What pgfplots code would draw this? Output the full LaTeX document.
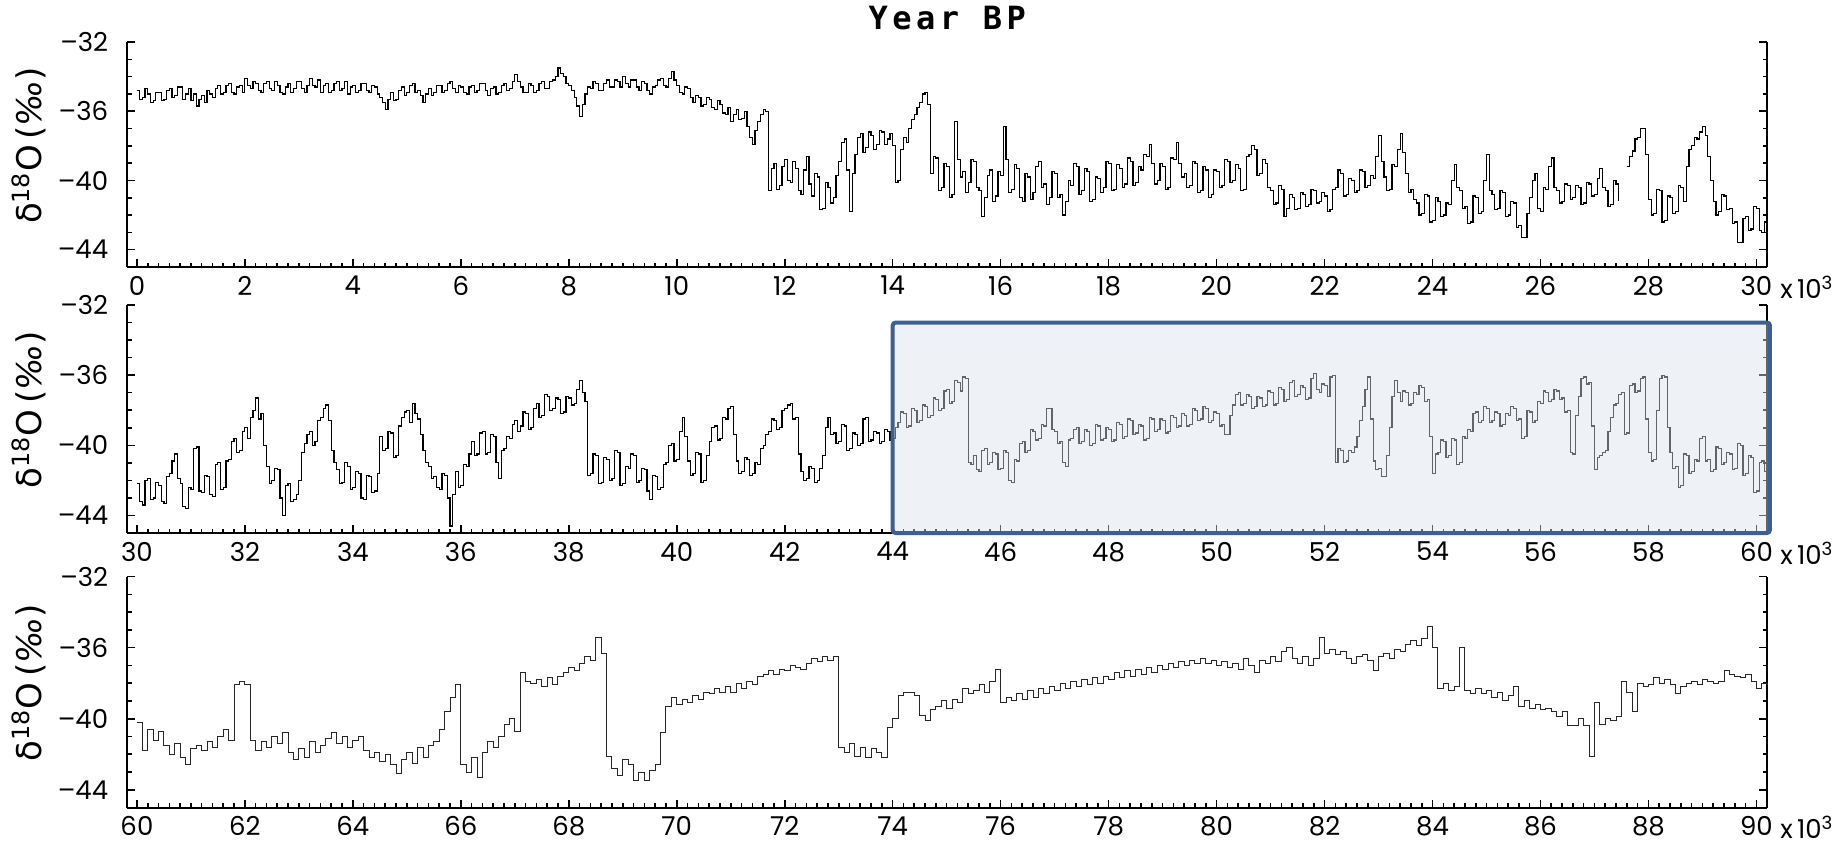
\documentclass[border=0pt]{standalone}
\usepackage{pgfplots}
\pgfplotsset{compat=1.18}
\usepackage{fontspec}
\setmainfont{Poppins}
\newfontfamily\labfont{DejaVu Sans}
\newfontfamily\titlefont[LetterSpace=14]{DejaVu Sans Mono}
\definecolor{boxblue}{RGB}{61,96,144}
\definecolor{boxfill}{rgb}{0.851,0.878,0.922}
\pgfplotsset{
  panel/.style={
    scale only axis, width=820pt,
    anchor=south west,
    axis x line*=bottom, axis y line*=box,
    ymin=-45, ymax=-32,
    ytick={-44,-40,-36,-32}, yticklabels={–44,–40,–36,–32},
    minor y tick num=3, minor x tick num=9,
    tick align=inside,
    major tick length=4pt, minor tick length=2.2pt,
    every tick/.style={black, line width=0.8pt},
    axis line style={line width=1pt},
    ticklabel style={font=\fontsize{13}{15}\selectfont},
    /pgf/number format/assume math mode=true,
    yticklabel style={xshift=-6pt},
    xticklabel style={yshift=-1pt},
    ylabel={δ\textsuperscript{18}O\,(\textit{‰})},
    ylabel style={at={(axis description cs:-0.0598,0.54)}, anchor=center, font=\labfont\fontsize{17}{19}\selectfont},
    clip=false,
    unbounded coords=jump,
  }
}
\newcommand{\xtenlabel}{\node[anchor=west, font=\fontsize{13}{15}\selectfont, xshift=3pt, yshift=-10pt] at (rel axis cs:1,0) {x\,10\textsuperscript{3}};}
\begin{document}
\begin{tikzpicture}
% ---------------- panel 1 ----------------
\begin{axis}[panel, at={(63.6pt,290pt)}, height=112.5pt,
  xmin=-0.18, xmax=30.2, xtick={0,2,...,30}]
\addplot[const plot, black, line width=0.6pt] table {
x y
0.00 -34.8
0.05 -35.3
0.10 -35.2
0.15 -34.7
0.20 -35.0
0.25 -35.5
0.30 -35.4
0.35 -34.9
0.40 -34.9
0.45 -35.4
0.50 -35.3
0.55 -34.8
0.60 -34.7
0.65 -35.2
0.70 -35.1
0.75 -34.6
0.80 -34.6
0.85 -35.3
0.90 -35.0
0.95 -34.7
1.00 -35.4
1.05 -35.0
1.10 -35.7
1.15 -35.3
1.20 -35.1
1.25 -35.5
1.30 -34.8
1.35 -35.0
1.40 -35.2
1.45 -34.7
1.50 -34.5
1.55 -35.0
1.60 -34.9
1.65 -34.5
1.70 -34.4
1.75 -34.9
1.80 -35.0
1.85 -34.6
1.90 -34.5
1.95 -34.9
2.00 -34.1
2.05 -34.5
2.10 -34.7
2.15 -34.3
2.20 -34.4
2.25 -34.8
2.30 -34.9
2.35 -34.4
2.40 -34.3
2.45 -34.7
2.50 -34.8
2.55 -34.3
2.60 -34.5
2.65 -34.9
2.70 -35.0
2.75 -34.6
2.80 -34.4
2.85 -34.9
2.90 -34.7
2.95 -34.3
3.00 -34.3
3.05 -34.7
3.10 -34.9
3.15 -34.5
3.20 -34.1
3.25 -34.5
3.30 -34.6
3.35 -34.2
3.40 -34.9
3.45 -34.5
3.50 -34.4
3.55 -34.9
3.60 -34.8
3.65 -34.4
3.70 -34.3
3.75 -34.8
3.80 -34.7
3.85 -34.3
3.90 -35.0
3.95 -34.6
4.00 -34.5
4.05 -34.9
4.10 -34.8
4.15 -34.4
4.20 -34.4
4.25 -34.8
4.30 -34.9
4.35 -34.5
4.40 -34.6
4.45 -35.0
4.50 -35.2
4.55 -35.5
4.60 -35.9
4.65 -35.3
4.70 -34.9
4.75 -35.4
4.80 -35.3
4.85 -34.8
4.90 -34.6
4.95 -35.1
5.00 -34.9
5.05 -34.5
5.10 -34.4
5.15 -34.9
5.20 -34.8
5.25 -35.1
5.30 -35.5
5.35 -35.0
5.40 -34.7
5.45 -35.1
5.50 -34.9
5.55 -34.5
5.60 -34.5
5.65 -34.9
5.70 -34.8
5.75 -34.4
5.80 -34.3
5.85 -34.7
5.90 -34.9
5.95 -34.5
6.00 -34.6
6.05 -34.9
6.10 -35.0
6.15 -34.6
6.20 -34.5
6.25 -34.9
6.30 -34.8
6.35 -34.4
6.40 -34.4
6.45 -34.8
6.50 -35.1
6.55 -34.7
6.60 -34.6
6.65 -35.0
6.70 -34.9
6.75 -34.5
6.80 -34.4
6.85 -34.8
6.90 -34.7
6.95 -34.3
7.00 -33.9
7.05 -34.3
7.10 -34.6
7.15 -34.9
7.20 -34.9
7.25 -34.4
7.30 -34.5
7.35 -34.9
7.40 -34.8
7.45 -34.4
7.50 -34.3
7.55 -34.7
7.60 -34.7
7.65 -34.3
7.70 -34.2
7.75 -34.0
7.80 -33.5
7.85 -33.8
7.90 -34.0
7.95 -34.4
8.00 -34.5
8.05 -34.8
8.10 -35.2
8.15 -35.7
8.20 -36.3
8.25 -35.6
8.30 -35.0
8.35 -34.6
8.40 -34.7
8.45 -34.3
8.50 -34.4
8.55 -34.8
8.60 -34.8
8.65 -34.4
8.70 -34.2
8.75 -34.6
8.80 -34.6
8.85 -34.2
8.90 -34.3
8.95 -34.6
9.00 -34.0
9.05 -34.4
9.10 -34.6
9.15 -34.2
9.20 -34.2
9.25 -34.6
9.30 -34.8
9.35 -34.3
9.40 -34.4
9.45 -34.8
9.50 -35.0
9.55 -34.6
9.60 -34.5
9.65 -34.2
9.70 -34.1
9.75 -34.5
9.80 -34.6
9.85 -34.1
9.90 -33.7
9.95 -34.2
10.00 -34.5
10.05 -34.9
10.10 -35.0
10.15 -34.6
10.20 -34.7
10.25 -35.2
10.30 -35.5
10.35 -35.1
10.40 -35.2
10.45 -35.7
10.50 -35.6
10.55 -35.2
10.60 -35.3
10.65 -35.8
10.70 -35.9
10.75 -35.4
10.80 -35.6
10.85 -36.1
10.90 -36.2
10.95 -35.8
11.00 -36.6
11.05 -36.2
11.10 -35.9
11.15 -36.5
11.20 -36.4
11.25 -36.0
11.30 -36.9
11.35 -37.5
11.40 -37.9
11.45 -37.1
11.50 -36.6
11.55 -36.2
11.60 -35.9
11.65 -36.0
11.70 -40.6
11.75 -39.3
11.80 -39.0
11.85 -40.5
11.90 -40.3
11.95 -39.2
12.00 -38.8
12.05 -40.0
12.10 -40.1
12.15 -38.9
12.20 -39.3
12.25 -40.6
12.30 -40.8
12.35 -39.4
12.40 -38.6
12.45 -40.2
12.50 -40.9
12.55 -39.6
12.60 -39.8
12.65 -41.7
12.70 -41.6
12.75 -40.1
12.80 -40.4
12.85 -41.3
12.90 -41.0
12.95 -39.7
13.00 -38.9
13.05 -37.8
13.10 -37.6
13.15 -39.4
13.20 -41.8
13.25 -39.6
13.30 -38.5
13.35 -37.5
13.40 -37.3
13.45 -38.4
13.50 -38.1
13.55 -37.2
13.60 -37.4
13.65 -38.2
13.70 -37.9
13.75 -37.1
13.80 -37.2
13.85 -37.9
13.90 -37.6
13.95 -37.3
14.00 -38.0
14.05 -40.1
14.10 -40.0
14.15 -38.2
14.20 -37.5
14.25 -37.8
14.30 -37.0
14.35 -36.5
14.40 -36.2
14.45 -35.8
14.50 -35.5
14.55 -35.0
14.60 -34.9
14.65 -35.6
14.70 -39.6
14.75 -38.6
14.80 -38.7
14.85 -40.6
14.90 -40.4
14.95 -39.0
15.00 -39.2
15.05 -41.0
15.10 -40.8
15.15 -36.6
15.20 -38.8
15.25 -39.8
15.30 -39.5
15.35 -40.7
15.40 -40.1
15.45 -38.8
15.50 -38.9
15.55 -40.4
15.60 -40.6
15.65 -42.1
15.70 -41.0
15.75 -39.7
15.80 -39.4
15.85 -41.2
15.90 -40.9
15.95 -39.5
16.00 -39.7
16.05 -36.9
16.10 -38.8
16.15 -40.7
16.20 -40.5
16.25 -39.1
16.30 -39.3
16.35 -41.0
16.40 -41.2
16.45 -39.6
16.50 -39.8
16.55 -41.1
16.60 -40.7
16.65 -39.2
16.70 -38.9
16.75 -40.4
16.80 -40.2
16.85 -41.4
16.90 -41.0
16.95 -39.5
17.00 -39.6
17.05 -41.0
17.10 -40.8
17.15 -42.0
17.20 -41.2
17.25 -40.0
17.30 -40.3
17.35 -39.0
17.40 -39.2
17.45 -40.8
17.50 -40.6
17.55 -39.3
17.60 -39.5
17.65 -41.2
17.70 -41.1
17.75 -39.8
17.80 -39.9
17.85 -40.7
17.90 -40.4
17.95 -38.9
18.00 -39.0
18.05 -40.6
18.10 -40.5
18.15 -39.1
18.20 -39.3
18.25 -40.4
18.30 -40.2
18.35 -38.7
18.40 -38.9
18.45 -40.3
18.50 -40.1
18.55 -39.2
18.60 -39.4
18.65 -38.5
18.70 -38.6
18.75 -37.9
18.80 -39.0
18.85 -40.2
18.90 -40.0
18.95 -39.0
19.00 -39.2
19.05 -40.5
19.10 -40.4
19.15 -38.7
19.20 -38.8
19.25 -37.8
19.30 -39.0
19.35 -39.8
19.40 -39.6
19.45 -40.4
19.50 -40.3
19.55 -38.9
19.60 -39.0
19.65 -40.7
19.70 -40.6
19.75 -39.2
19.80 -39.4
19.85 -41.0
19.90 -40.8
19.95 -39.4
20.00 -39.5
20.05 -40.4
20.10 -40.3
20.15 -38.8
20.20 -38.9
20.25 -40.1
20.30 -40.0
20.35 -39.1
20.40 -39.3
20.45 -40.6
20.50 -40.5
20.55 -38.6
20.60 -38.5
20.65 -38.0
20.70 -38.2
20.75 -39.7
20.80 -39.6
20.85 -38.8
20.90 -39.0
20.95 -40.4
21.00 -40.6
21.05 -41.4
21.10 -41.3
21.15 -40.3
21.20 -40.5
21.25 -42.1
21.30 -41.6
21.35 -40.8
21.40 -41.0
21.45 -41.7
21.50 -41.6
21.55 -40.7
21.60 -40.8
21.65 -41.5
21.70 -41.4
21.75 -40.5
21.80 -40.6
21.85 -41.3
21.90 -41.2
21.95 -40.7
22.00 -40.9
22.05 -41.8
22.10 -41.7
22.15 -40.5
22.20 -40.4
22.25 -39.4
22.30 -39.6
22.35 -40.9
22.40 -40.8
22.45 -39.9
22.50 -40.0
22.55 -40.7
22.60 -40.6
22.65 -39.4
22.70 -39.5
22.75 -40.4
22.80 -40.3
22.85 -39.7
22.90 -39.9
22.95 -38.6
23.00 -37.4
23.05 -38.9
23.10 -39.8
23.15 -40.6
23.20 -40.5
23.25 -39.1
23.30 -39.2
23.35 -38.2
23.40 -37.3
23.45 -38.4
23.50 -39.6
23.55 -40.7
23.60 -40.5
23.65 -41.1
23.70 -41.3
23.75 -42.0
23.80 -41.9
23.85 -40.8
23.90 -40.9
23.95 -42.4
24.00 -42.3
24.05 -41.0
24.10 -41.2
24.15 -42.1
24.20 -42.0
24.25 -41.3
24.30 -41.4
24.35 -40.0
24.40 -39.1
24.45 -40.4
24.50 -40.6
24.55 -41.6
24.60 -41.5
24.65 -42.5
24.70 -42.4
24.75 -40.9
24.80 -41.0
24.85 -41.9
24.90 -41.8
24.95 -40.0
25.00 -38.5
25.05 -40.6
25.10 -40.8
25.15 -41.7
25.20 -41.6
25.25 -40.6
25.30 -40.7
25.35 -42.1
25.40 -42.0
25.45 -41.2
25.50 -41.3
25.55 -42.7
25.60 -42.6
25.65 -43.3
25.70 -43.3
25.75 -41.9
25.80 -41.0
25.85 -40.0
25.90 -39.6
25.95 -41.6
26.00 -41.8
26.05 -40.4
26.10 -40.5
26.15 -39.2
26.20 -38.7
26.25 -40.4
26.30 -40.6
26.35 -41.3
26.40 -41.2
26.45 -40.2
26.50 -40.3
26.55 -41.1
26.60 -41.0
26.65 -40.3
26.70 -40.4
26.75 -41.4
26.80 -41.3
26.85 -40.1
26.90 -40.2
26.95 -40.9
27.00 -40.8
27.05 -39.9
27.10 -39.3
27.15 -40.4
27.20 -40.6
27.25 -41.5
27.30 -41.4
27.35 -40.0
27.40 -40.2
27.45 -41.2
27.50 nan
27.55 nan
27.60 -39.2
27.65 -38.6
27.70 -38.3
27.75 -37.6
27.80 -37.5
27.85 -37.0
27.90 -37.0
27.95 -38.5
28.00 -41.1
28.05 -42.0
28.10 -41.9
28.15 -40.5
28.20 -40.6
28.25 -42.4
28.30 -42.3
28.35 -40.9
28.40 -41.0
28.45 -41.9
28.50 -41.8
28.55 -40.3
28.60 -40.4
28.65 -41.2
28.70 -39.2
28.75 -38.2
28.80 -38.0
28.85 -37.5
28.90 -37.6
28.95 -37.2
29.00 -36.9
29.05 -37.4
29.10 -38.6
29.15 -40.0
29.20 -41.2
29.25 -42.0
29.30 -41.8
29.35 -40.8
29.40 -40.9
29.45 -41.7
29.50 -41.6
29.55 -42.5
29.60 -42.4
29.65 -43.6
29.70 -43.6
29.75 -42.2
29.80 -42.1
29.85 -42.9
29.90 -42.8
29.95 -41.5
30.00 -41.6
30.05 -42.9
30.10 -43.0
30.15 -42.4
30.20 -42.5
};
\node[font=\titlefont\bfseries\fontsize{16}{19}\selectfont, yshift=12pt] at (rel axis cs:0.5,1) {Year BP};
\xtenlabel
\end{axis}
% ---------------- panel 2 ----------------
\begin{axis}[panel, at={(63.6pt,157pt)}, height=114pt,
  xmin=29.82, xmax=60.2, xtick={30,32,...,60}]
\addplot[const plot, black, line width=0.6pt] table {
x y
30.00 -42.2
30.05 -43.2
30.10 -43.4
30.15 -42.0
30.20 -41.9
30.25 -43.1
30.30 -43.0
30.35 -42.1
30.40 -42.3
30.45 -43.2
30.50 -43.3
30.55 -41.8
30.60 -41.6
30.65 -40.9
30.70 -40.5
30.75 -41.9
30.80 -42.2
30.85 -43.5
30.90 -43.6
30.95 -42.4
31.00 -42.5
31.05 -40.2
31.10 -40.1
31.15 -42.6
31.20 -42.7
31.25 -41.7
31.30 -41.8
31.35 -42.8
31.40 -42.9
31.45 -41.1
31.50 -41.0
31.55 -42.5
31.60 -42.4
31.65 -40.9
31.70 -40.8
31.75 -39.8
31.80 -39.6
31.85 -40.4
31.90 -40.3
31.95 -39.2
32.00 -39.0
32.05 -39.6
32.10 -38.4
32.15 -38.0
32.20 -37.3
32.25 -38.5
32.30 -38.2
32.35 -40.0
32.40 -41.2
32.45 -42.2
32.50 -42.0
32.55 -41.3
32.60 -41.4
32.65 -43.0
32.70 -44.0
32.75 -42.3
32.80 -42.2
32.85 -43.2
32.90 -43.1
32.95 -42.8
33.00 -42.0
33.05 -40.4
33.10 -39.9
33.15 -39.4
33.20 -39.2
33.25 -40.0
33.30 -39.8
33.35 -38.6
33.40 -38.4
33.45 -37.9
33.50 -37.7
33.55 -38.6
33.60 -40.3
33.65 -41.0
33.70 -41.4
33.75 -42.2
33.80 -42.1
33.85 -41.0
33.90 -41.2
33.95 -42.5
34.00 -42.4
34.05 -41.5
34.10 -41.6
34.15 -43.0
34.20 -43.1
34.25 -41.7
34.30 -41.8
34.35 -42.7
34.40 -42.6
34.45 -41.6
34.50 -39.5
34.55 -40.3
34.60 -40.2
34.65 -39.2
34.70 -39.3
34.75 -40.7
34.80 -40.6
34.85 -38.9
34.90 -38.4
34.95 -38.1
35.00 -38.0
35.05 -38.7
35.10 -37.6
35.15 -38.2
35.20 -38.5
35.25 -39.4
35.30 -40.3
35.35 -41.0
35.40 -41.2
35.45 -41.9
35.50 -41.8
35.55 -42.4
35.60 -42.5
35.65 -41.6
35.70 -41.7
35.75 -43.0
35.80 -44.6
35.85 -42.8
35.90 -41.5
35.95 -42.4
36.00 -42.3
36.05 -41.1
36.10 -41.2
36.15 -40.5
36.20 -39.8
36.25 -40.6
36.30 -40.5
36.35 -39.3
36.40 -39.2
36.45 -40.5
36.50 -40.4
36.55 -39.4
36.60 -39.5
36.65 -41.0
36.70 -41.9
36.75 -40.3
36.80 -40.2
36.85 -39.5
36.90 -39.6
36.95 -38.8
37.00 -38.6
37.05 -39.2
37.10 -38.9
37.15 -38.1
37.20 -38.2
37.25 -39.1
37.30 -39.0
37.35 -37.9
37.40 -37.6
37.45 -38.4
37.50 -38.3
37.55 -37.1
37.60 -37.2
37.65 -38.0
37.70 -37.9
37.75 -37.3
37.80 -37.4
37.85 -38.2
37.90 -38.1
37.95 -37.2
38.00 -37.3
38.05 -37.7
38.10 -37.6
38.15 -36.8
38.20 -36.3
38.25 -37.0
38.30 -37.5
38.35 -41.7
38.40 -41.6
38.45 -40.5
38.50 -40.6
38.55 -42.2
38.60 -42.1
38.65 -40.7
38.70 -40.8
38.75 -42.0
38.80 -41.9
38.85 -40.3
38.90 -40.4
38.95 -42.3
39.00 -42.2
39.05 -41.2
39.10 -41.3
39.15 -40.5
39.20 -40.6
39.25 -42.1
39.30 -42.0
39.35 -41.3
39.40 -41.4
39.45 -42.6
39.50 -43.1
39.55 -41.7
39.60 -41.8
39.65 -42.5
39.70 -42.4
39.75 -41.1
39.80 -41.0
39.85 -40.0
39.90 -39.9
39.95 -40.9
40.00 -40.8
40.05 -39.2
40.10 -38.4
40.15 -39.5
40.20 -40.9
40.25 -41.7
40.30 -41.6
40.35 -40.4
40.40 -40.5
40.45 -42.1
40.50 -42.0
40.55 -40.6
40.60 -39.8
40.65 -39.0
40.70 -38.9
40.75 -39.7
40.80 -39.6
40.85 -38.4
40.90 -38.5
40.95 -37.9
41.00 -37.8
41.05 -39.4
41.10 -40.9
41.15 -41.6
41.20 -41.5
41.25 -40.7
41.30 -40.8
41.35 -41.7
41.40 -41.6
41.45 -41.0
41.50 -41.1
41.55 -40.2
41.60 -40.0
41.65 -39.4
41.70 -39.2
41.75 -38.5
41.80 -38.6
41.85 -39.1
41.90 -39.0
41.95 -38.0
42.00 -37.9
42.05 -37.7
42.10 -37.6
42.15 -38.5
42.20 -38.4
42.25 -40.5
42.30 -41.5
42.35 -42.0
42.40 -41.9
42.45 -41.2
42.50 -41.3
42.55 -42.1
42.60 -42.0
42.65 -41.3
42.70 -40.6
42.75 -39.0
42.80 -38.4
42.85 -39.4
42.90 -39.3
42.95 -39.9
43.00 -39.8
43.05 -38.8
43.10 -38.9
43.15 -40.3
43.20 -40.2
43.25 -39.3
43.30 -39.4
43.35 -40.0
43.40 -39.9
43.45 -38.5
43.50 -38.4
43.55 -39.8
43.60 -39.7
43.65 -39.2
43.70 -39.3
43.75 -39.9
43.80 -39.8
43.85 -39.1
43.90 -39.2
43.95 -39.7
44.00 -39.6
44.05 -39.0
44.10 -38.7
44.15 -38.1
44.20 -38.2
44.25 -39.0
44.30 -38.9
44.35 -37.9
44.40 -38.0
44.45 -38.7
44.50 -38.6
44.55 -37.7
44.60 -37.8
44.65 -38.4
44.70 -38.3
44.75 -37.3
44.80 -37.4
44.85 -38.0
44.90 -37.9
44.95 -36.9
45.00 -36.8
45.05 -37.6
45.10 -37.5
45.15 -36.3
45.20 -36.4
45.25 -36.9
45.30 -36.1
45.35 -36.2
45.40 -41.0
45.45 -41.1
45.50 -40.6
45.55 -41.4
45.60 -41.5
45.65 -40.3
45.70 -40.2
45.75 -41.1
45.80 -41.0
45.85 -40.4
45.90 -40.5
45.95 -41.4
46.00 -41.3
46.05 -40.3
46.10 -40.4
46.15 -42.0
46.20 -42.1
46.25 -40.8
46.30 -40.9
46.35 -39.9
46.40 -39.8
46.45 -40.4
46.50 -40.3
46.55 -39.1
46.60 -39.2
46.65 -39.7
46.70 -39.6
46.75 -38.8
46.80 -38.9
46.85 -37.9
46.90 -37.9
46.95 -39.1
47.00 -39.2
47.05 -39.9
47.10 -39.8
47.15 -41.0
47.20 -41.2
47.25 -39.7
47.30 -39.6
47.35 -39.1
47.40 -39.0
47.45 -39.9
47.50 -39.8
47.55 -39.1
47.60 -39.2
47.65 -40.0
47.70 -39.9
47.75 -38.8
47.80 -38.9
47.85 -39.7
47.90 -39.6
47.95 -39.0
48.00 -39.1
48.05 -39.8
48.10 -39.7
48.15 -38.7
48.20 -38.8
48.25 -39.6
48.30 -39.5
48.35 -38.5
48.40 -38.6
48.45 -39.4
48.50 -39.3
48.55 -38.8
48.60 -38.9
48.65 -39.7
48.70 -39.6
48.75 -38.4
48.80 -38.5
48.85 -39.2
48.90 -39.1
48.95 -38.5
49.00 -38.6
49.05 -39.3
49.10 -39.2
49.15 -38.3
49.20 -38.4
49.25 -39.0
49.30 -38.9
49.35 -38.2
49.40 -38.3
49.45 -38.9
49.50 -38.8
49.55 -37.9
49.60 -38.0
49.65 -38.6
49.70 -38.5
49.75 -37.8
49.80 -37.9
49.85 -38.7
49.90 -38.6
49.95 -38.1
50.00 -38.2
50.05 -38.9
50.10 -38.8
50.15 -39.4
50.20 -39.4
50.25 -38.3
50.30 -37.7
50.35 -37.1
50.40 -37.0
50.45 -37.7
50.50 -37.6
50.55 -37.1
50.60 -37.2
50.65 -37.9
50.70 -37.8
50.75 -37.2
50.80 -37.3
50.85 -37.8
50.90 -37.7
50.95 -36.9
51.00 -37.0
51.05 -37.7
51.10 -37.6
51.15 -36.7
51.20 -36.8
51.25 -37.5
51.30 -37.4
51.35 -36.4
51.40 -36.3
51.45 -37.2
51.50 -37.1
51.55 -36.6
51.60 -36.7
51.65 -37.4
51.70 -37.3
51.75 -36.2
51.80 -35.9
51.85 -36.8
51.90 -37.0
51.95 -36.5
52.00 -36.6
52.05 -37.2
52.10 -36.1
52.15 -36.0
52.20 -41.0
52.25 -40.2
52.30 -40.3
52.35 -41.0
52.40 -40.9
52.45 -40.3
52.50 -40.4
52.55 -40.1
52.60 -39.5
52.65 -38.6
52.70 -37.8
52.75 -36.8
52.80 -36.1
52.85 -38.5
52.90 -40.9
52.95 -41.4
53.00 -41.3
53.05 -41.8
53.10 -41.8
53.15 -40.6
53.20 -39.0
53.25 -37.2
53.30 -36.3
53.35 -37.0
53.40 -37.5
53.45 -36.9
53.50 -37.0
53.55 -37.7
53.60 -37.6
53.65 -37.0
53.70 -37.1
53.75 -36.6
53.80 -36.7
53.85 -37.5
53.90 -37.4
53.95 -39.5
54.00 -41.6
54.05 -40.5
54.10 -40.4
54.15 -39.7
54.20 -39.8
54.25 -40.7
54.30 -40.6
54.35 -39.6
54.40 -39.7
54.45 -41.1
54.50 -41.0
54.55 -39.5
54.60 -39.6
54.65 -39.1
54.70 -39.2
54.75 -38.2
54.80 -38.1
54.85 -38.7
54.90 -38.6
54.95 -37.8
55.00 -37.9
55.05 -38.7
55.10 -38.6
55.15 -38.1
55.20 -38.2
55.25 -38.9
55.30 -38.8
55.35 -38.2
55.40 -38.3
55.45 -37.8
55.50 -37.9
55.55 -38.6
55.60 -38.5
55.65 -39.6
55.70 -39.5
55.75 -38.0
55.80 -38.1
55.85 -38.7
55.90 -38.6
55.95 -37.5
56.00 -37.6
56.05 -36.9
56.10 -37.0
56.15 -37.5
56.20 -37.4
56.25 -36.8
56.30 -36.9
56.35 -37.4
56.40 -37.3
56.45 -38.1
56.50 -38.0
56.55 -40.4
56.60 -40.5
56.65 -38.3
56.70 -37.2
56.75 -36.2
56.80 -36.1
56.85 -36.5
56.90 -36.4
56.95 -38.9
57.00 -41.4
57.05 -40.7
57.10 -40.6
57.15 -40.4
57.20 -40.3
57.25 -39.2
57.30 -38.4
57.35 -37.7
57.40 -37.6
57.45 -37.1
57.50 -37.0
57.55 -39.4
57.60 -39.3
57.65 -36.6
57.70 -36.5
57.75 -37.0
57.80 -36.9
57.85 -36.2
57.90 -36.1
57.95 -38.5
58.00 -40.4
58.05 -40.9
58.10 -40.8
58.15 -38.0
58.20 -36.2
58.25 -36.0
58.30 -36.1
58.35 -39.0
58.40 -40.4
58.45 -41.3
58.50 -41.2
58.55 -42.4
58.60 -42.3
58.65 -40.5
58.70 -40.6
58.75 -41.6
58.80 -41.5
58.85 -40.8
58.90 -40.9
58.95 -39.6
59.00 -39.5
59.05 -40.9
59.10 -40.8
59.15 -41.5
59.20 -41.4
59.25 -40.1
59.30 -40.2
59.35 -41.1
59.40 -41.0
59.45 -40.4
59.50 -40.5
59.55 -41.4
59.60 -41.3
59.65 -39.9
59.70 -40.0
59.75 -41.7
59.80 -41.6
59.85 -40.6
59.90 -40.7
59.95 -42.7
60.00 -42.6
60.05 -41.0
60.10 -40.9
60.15 -41.5
60.20 -41.4
};
\fill[boxfill, fill opacity=0.45] (axis cs:44,-33) rectangle (axis cs:60.25,-45);
\draw[boxblue, line width=2pt, rounded corners=1.5pt] (axis cs:44,-33) rectangle (axis cs:60.25,-45);
\xtenlabel
\end{axis}
% ---------------- panel 3 ----------------
\begin{axis}[panel, at={(63.6pt,19.7pt)}, height=115.5pt,
  xmin=59.82, xmax=90.2, xtick={60,62,...,90}]
\addplot[const plot, black!85, line width=0.5pt] table {
x y
60.0 -40.2
60.1 -41.8
60.2 -40.6
60.3 -41.2
60.4 -40.7
60.5 -41.5
60.6 -42.0
60.7 -41.4
60.8 -42.2
60.9 -42.6
61.0 -41.7
61.1 -41.5
61.2 -41.8
61.3 -41.3
61.4 -41.6
61.5 -41.0
61.6 -40.6
61.7 -41.2
61.8 -38.1
61.9 -37.9
62.0 -38.1
62.1 -41.2
62.2 -41.8
62.3 -41.3
62.4 -41.6
62.5 -41.0
62.6 -41.4
62.7 -40.8
62.8 -41.9
62.9 -42.3
63.0 -41.7
63.1 -42.2
63.2 -41.3
63.3 -41.9
63.4 -41.5
63.5 -41.1
63.6 -40.8
63.7 -41.4
63.8 -41.0
63.9 -41.6
64.0 -41.2
64.1 -41.0
64.2 -41.8
64.3 -42.2
64.4 -41.9
64.5 -42.4
64.6 -42.0
64.7 -42.6
64.8 -43.1
64.9 -42.3
65.0 -41.9
65.1 -42.5
65.2 -41.6
65.3 -42.2
65.4 -41.5
65.5 -41.3
65.6 -40.6
65.7 -39.6
65.8 -38.8
65.9 -38.1
66.0 -42.6
66.1 -43.0
66.2 -42.2
66.3 -43.3
66.4 -41.9
66.5 -41.3
66.6 -41.6
66.7 -41.0
66.8 -40.3
66.9 -40.0
67.0 -40.7
67.1 -37.4
67.2 -37.9
67.3 -38.0
67.4 -37.8
67.5 -38.2
67.6 -37.7
67.7 -38.1
67.8 -37.6
67.9 -37.4
68.0 -37.1
68.1 -37.3
68.2 -36.9
68.3 -36.5
68.4 -36.7
68.5 -35.4
68.6 -36.3
68.7 -42.1
68.8 -42.8
68.9 -43.2
69.0 -42.3
69.1 -42.6
69.2 -43.5
69.3 -43.0
69.4 -43.5
69.5 -42.9
69.6 -42.6
69.7 -40.8
69.8 -39.3
69.9 -38.8
70.0 -39.2
70.1 -38.9
70.2 -39.1
70.3 -38.7
70.4 -38.9
70.5 -38.5
70.6 -38.6
70.7 -38.3
70.8 -38.5
70.9 -38.2
71.0 -38.5
71.1 -38.0
71.2 -38.3
71.3 -37.9
71.4 -38.1
71.5 -37.6
71.6 -37.5
71.7 -37.3
71.8 -37.5
71.9 -37.2
72.0 -37.3
72.1 -37.0
72.2 -37.1
72.3 -37.2
72.4 -36.9
72.5 -36.6
72.6 -36.8
72.7 -36.5
72.8 -36.7
72.9 -36.5
73.0 -41.6
73.1 -41.9
73.2 -41.4
73.3 -42.1
73.4 -41.6
73.5 -42.2
73.6 -41.7
73.7 -41.9
73.8 -42.2
73.9 -40.5
74.0 -40.0
74.1 -38.7
74.2 -38.5
74.3 -38.5
74.4 -38.7
74.5 -39.8
74.6 -40.1
74.7 -39.5
74.8 -39.3
74.9 -39.0
75.0 -39.4
75.1 -38.9
75.2 -39.1
75.3 -38.3
75.4 -38.6
75.5 -38.4
75.6 -38.1
75.7 -38.5
75.8 -37.9
75.9 -37.2
76.0 -39.1
76.1 -38.8
76.2 -39.0
76.3 -38.6
76.4 -38.9
76.5 -38.4
76.6 -38.8
76.7 -38.3
76.8 -38.6
76.9 -38.2
77.0 -38.4
77.1 -38.0
77.2 -38.3
77.3 -37.9
77.4 -38.2
77.5 -37.8
77.6 -38.1
77.7 -37.7
77.8 -38.0
77.9 -37.6
78.0 -37.8
78.1 -37.4
78.2 -37.7
78.3 -37.3
78.4 -37.6
78.5 -37.2
78.6 -37.5
78.7 -37.1
78.8 -37.4
78.9 -37.0
79.0 -37.2
79.1 -36.9
79.2 -37.1
79.3 -36.8
79.4 -37.0
79.5 -36.7
79.6 -36.9
79.7 -36.6
79.8 -36.9
79.9 -36.7
80.0 -37.0
80.1 -36.8
80.2 -37.1
80.3 -36.9
80.4 -37.2
80.5 -36.6
80.6 -37.0
80.7 -37.4
80.8 -36.7
80.9 -36.9
81.0 -36.5
81.1 -36.8
81.2 -36.2
81.3 -36.0
81.4 -36.6
81.5 -36.9
81.6 -36.5
81.7 -37.0
81.8 -36.6
81.9 -35.4
82.0 -36.3
82.1 -36.1
82.2 -36.4
82.3 -36.2
82.4 -36.6
82.5 -36.9
82.6 -36.5
82.7 -36.4
82.8 -36.7
82.9 -37.3
83.0 -36.5
83.1 -36.3
83.2 -36.6
83.3 -36.1
83.4 -36.2
83.5 -35.8
83.6 -35.6
83.7 -35.9
83.8 -35.5
83.9 -34.8
84.0 -36.0
84.1 -38.3
84.2 -38.0
84.3 -38.4
84.4 -38.2
84.5 -36.0
84.6 -38.4
84.7 -38.6
84.8 -38.3
84.9 -38.6
85.0 -38.4
85.1 -38.8
85.2 -38.5
85.3 -39.0
85.4 -38.7
85.5 -38.2
85.6 -39.3
85.7 -39.0
85.8 -39.4
85.9 -39.2
86.0 -39.5
86.1 -39.4
86.2 -39.6
86.3 -39.9
86.4 -39.6
86.5 -40.4
86.6 -40.4
86.7 -40.0
86.8 -40.4
86.9 -42.1
87.0 -39.1
87.1 -40.3
87.2 -40.0
87.3 -40.1
87.4 -39.9
87.5 -37.9
87.6 -38.5
87.7 -39.6
87.8 -38.0
87.9 -38.2
88.0 -38.1
88.1 -37.7
88.2 -38.0
88.3 -37.8
88.4 -38.1
88.5 -38.6
88.6 -38.2
88.7 -38.0
88.8 -37.9
88.9 -38.1
89.0 -37.8
89.1 -37.9
89.2 -38.0
89.3 -37.9
89.4 -37.3
89.5 -37.5
89.6 -37.6
89.7 -37.7
89.8 -37.5
89.9 -37.9
90.0 -38.3
90.1 -38.0
90.2 -38.1
};
\xtenlabel
\end{axis}
\pgfresetboundingbox
\path (0,0) rectangle (920pt,423.5pt);
\end{tikzpicture}
\end{document}
